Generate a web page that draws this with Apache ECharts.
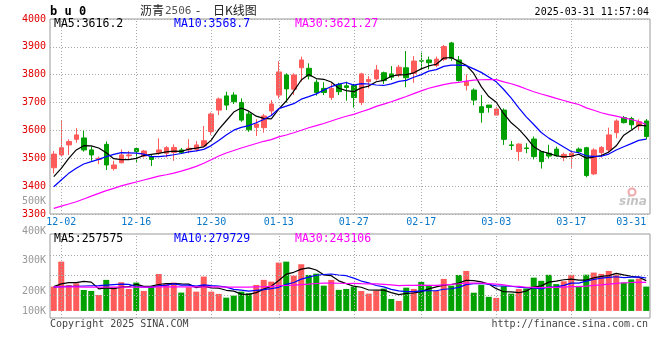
<!DOCTYPE html>
<html><head><meta charset="utf-8">
<script src="https://cdn.jsdelivr.net/npm/echarts@6/dist/echarts.min.js"></script>
<style>html,body{margin:0;padding:0;background:#fff}#c{width:660px;height:360px}</style>
</head><body><div id="c"></div>
<script>
const dates = ["11-29",
"12-02","12-03","12-04","12-05","12-06","12-09","12-10","12-11","12-12","12-13","12-16","12-17","12-18","12-19","12-20","12-23","12-24","12-25","12-26","12-27","12-30","12-31",
"01-02","01-03","01-06","01-07","01-08","01-09","01-10","01-13","01-14","01-15","01-16","01-17","01-20","01-21","01-22","01-23","01-24","01-27",
"02-05","02-06","02-07","02-10","02-11","02-12","02-13","02-14","02-17","02-18","02-19","02-20","02-21","02-24","02-25","02-26","02-27","02-28",
"03-03","03-04","03-05","03-06","03-07","03-10","03-11","03-12","03-13","03-14","03-17","03-18","03-19","03-20","03-21","03-24","03-25","03-26","03-27","03-28","03-31"];
const labelIdx = [1,11,21,30,40,49,59,69,79];
const gridIdx = [1,11,21,30,40,49,59,69];

const opens = [3466,3512,3548,3568,3573,3530,3496,3550,3463,3484,
3509,3535,3508,3506,3521,3518,3521,3530,3530,3532,
3544,3596,3673,3724,3727,3700,3659,3611,3610,3670,
3727,3799,3748,3825,3823,3773,3751,3718,3765,3760,
3761,3700,3775,3785,3807,3803,3799,3825,3805,3850,
3853,3833,3855,3914,3853,3761,3745,3685,3691,3655,
3673,3548,3524,3537,3569,3524,3518,3533,3503,3506,
3533,3538,3444,3520,3530,3592,3646,3643,3616,3634];
const closes = [3515,3538,3560,3584,3530,3512,3500,3476,3476,3512,
3512,3524,3526,3496,3530,3538,3539,3520,3536,3548,
3563,3659,3713,3691,3703,3637,3602,3623,3652,3695,
3810,3749,3799,3853,3795,3736,3736,3751,3739,3754,
3718,3803,3783,3817,3779,3791,3827,3789,3849,3849,
3843,3856,3901,3859,3779,3775,3709,3664,3682,3677,
3568,3546,3551,3535,3506,3488,3508,3509,3514,3518,
3524,3438,3530,3539,3584,3634,3628,3620,3631,3578];
const lows = [3446,3506,3512,3556,3524,3491,3479,3458,3456,3482,
3494,3484,3503,3472,3512,3503,3491,3515,3518,3524,
3542,3584,3655,3673,3695,3631,3595,3580,3592,3652,
3715,3700,3727,3775,3783,3725,3727,3709,3727,3707,
3682,3691,3751,3779,3767,3781,3791,3755,3771,3817,
3819,3827,3849,3850,3775,3743,3691,3628,3664,3655,
3548,3530,3491,3518,3496,3463,3500,3506,3490,3466,
3518,3432,3440,3503,3518,3572,3625,3605,3602,3568];
const highs = [3526,3634,3568,3608,3599,3542,3506,3560,3491,3532,
3526,3539,3530,3512,3572,3544,3550,3537,3569,3562,
3616,3664,3718,3739,3737,3715,3667,3640,3659,3709,
3849,3805,3805,3865,3841,3783,3773,3769,3771,3775,
3767,3807,3795,3835,3811,3831,3835,3885,3867,3879,
3865,3865,3907,3918,3867,3801,3751,3727,3691,3685,
3679,3562,3554,3554,3578,3526,3548,3542,3520,3524,
3539,3541,3536,3544,3610,3640,3652,3649,3640,3641];

const ma5 = [3434,3464,3500,3530,3545.2,3544.5,3536.9,3520.1,3498.6,3495,
3495,3499.7,3509.8,3513.9,3517.5,3522.7,3525.9,3524.7,3532.6,3536.2,
3541.2,3565.1,3603.6,3634.7,3665.9,3680.7,3669.2,3651.3,3643.4,3641.7,
3676.2,3705.6,3740.8,3781,3801,3786.3,3783.6,3774,3751.3,3742.9,
3739.3,3752.7,3759.2,3774.8,3779.8,3794.4,3799.2,3800.4,3806.9,3821,
3831.5,3837.5,3859.7,3861.7,3847.5,3833.9,3804.5,3757.1,3721.6,3701.3,
3659.9,3627.3,3604.8,3575.4,3541.2,3525.1,3517.5,3509.1,3505,3507.4,
3514.6,3500.5,3504.5,3509.6,3522.7,3544.8,3582.8,3600.8,3619.2,3616.2];
const ma10 = [3398,3422,3446,3464,3479.5,3488,3496,3506,3514,3520.1,
3519.7,3518.3,3514.9,3506.2,3506.2,3508.9,3512.8,3517.2,3523.2,3526.8,
3532,3545.5,3564.2,3583.7,3601,3610.9,3617.2,3627.5,3639.1,3653.8,
3678.4,3687.4,3696,3712.2,3721.4,3731.2,3744.6,3757.4,3766.2,3772,
3762.8,3768.2,3766.6,3763,3761.4,3766.9,3776,3779.8,3790.8,3800.4,
3813,3818.3,3830.1,3834.3,3834.3,3832.7,3821,3808.4,3791.7,3774.4,
3746.9,3715.9,3681,3648.5,3621.2,3592.5,3572.4,3557,3540.2,3524.3,
3519.9,3509,3506.8,3507.3,3515.1,3529.7,3541.6,3552.7,3564.4,3568.7];
const ma30 = [3320,3328,3336,3344,3354,3364,3374,3384,3392,3401,
3408,3415,3422,3429,3436,3441,3447,3454,3462,3471,
3482,3495,3508,3519,3528,3537,3545,3553,3561,3566.9,
3576.7,3583.7,3591.7,3600.7,3609.5,3617,3624.9,3634,3642.8,3650.9,
3657.7,3667,3675.6,3686.3,3694.6,3703,3712.6,3721.6,3732,3742.1,
3751.4,3758,3764.2,3769.8,3772.3,3776.9,3780.5,3781.9,3782.9,3782.3,
3774.2,3767.5,3759.2,3748.6,3738.9,3730.7,3723.1,3715.1,3707.6,3699.7,
3693.2,3681.1,3672.6,3663.4,3656.9,3651.6,3645,3639.3,3632.1,3621.3];

const volumes = [207000,419000,221000,235000,178000,170000,136000,264000,201000,244000,
187000,241000,170000,212000,314000,230000,241000,156000,201000,164000,
292000,164000,145000,113000,130000,164000,150000,221000,264000,249000,
411000,419000,300000,397000,306000,317000,215000,264000,179000,187000,
207000,170000,147000,170000,190000,102000,85000,198000,187000,247000,
221000,170000,272000,215000,306000,340000,155000,221000,120000,111000,
210000,147000,187000,191000,283000,256000,307000,228000,252000,307000,
213000,308000,326000,315000,340000,309000,241000,268000,275000,207000];
const volMa5 = [207000,230000,241000,241000,252000,244600,188000,196500,189700,202900,
206300,227300,208600,210800,224800,233300,233300,230500,228300,198300,
210800,195400,193100,175500,168700,143100,140300,155600,185700,209500,
258900,312700,328500,355200,366600,347800,307000,299700,256000,232200,
210200,201200,177900,176200,176800,155800,138800,149000,152400,163700,
187500,204500,219300,224900,236800,260600,257600,247400,228400,189300,
163300,161700,154900,169100,203600,212800,244800,253000,265200,270000,
261400,261600,281200,293800,300400,319600,306200,294600,286600,257575];
const volMa10 = [203000,206000,208000,210000,212000,214000,216000,220000,224000,227500,
225500,207700,202600,200300,213900,219800,230300,219600,219600,211600,
222100,214400,211800,201900,183500,177000,167900,174400,180600,189100,
201000,226500,242100,270500,288100,303400,309900,314100,305600,299400,
279000,254100,238800,216100,204500,183000,170000,163500,164300,170300,
171700,171700,184200,188700,200300,224100,231100,233400,226700,213100,
212000,209700,201200,198800,196500,188100,203300,204000,217200,236800,
237100,253200,267100,279500,285200,290500,283900,287900,290200,279729];
const volMa30 = [205000,205000,204000,204000,203000,203000,203000,202000,202000,202000,
202000,203000,203000,203000,204000,204000,205000,205000,205000,205000,
205000,205000,204000,203000,202000,202000,202000,204000,206000,209400,
216200,216200,218800,224200,228500,233400,236000,236000,235300,233400,
234000,231700,230900,229500,225400,221100,215900,217300,216800,219600,
217200,217400,221700,225100,230900,236800,237000,237000,232200,227600,
220900,211800,208000,201200,200400,198400,201400,200300,202700,206700,
206900,211500,217500,222300,227300,234200,239400,241700,244700,243106];
const volTickLabels = ["500K","400K","300K","200K","100K"];
const volGridValues = [130000,300000,470000];

const MONO = '"DejaVu Sans Mono", "Liberation Mono", monospace';
const CJK = '"Noto Sans CJK SC", sans-serif';
const UP = '#ff5b5b', DOWN = '#00a000';

const ohlc = opens.map((o, i) => [o, closes[i], lows[i], highs[i]]);
const dotted = {color: '#a8a8a8', width: 1, type: [1, 2]};

const chart = echarts.init(document.getElementById('c'), null, {renderer: 'canvas'});
const lineS = (data, color, xi, yi) => ({type: 'line', data, xAxisIndex: xi, yAxisIndex: yi, symbol: 'none',
  lineStyle: {color, width: 1.2}, silent: true, z: 5});

function txt(x, y, text, fill, font, align) {
  return {type: 'text', x, y, silent: true, z: 100,
    style: {text, fill, font, align: align || 'left', verticalAlign: 'middle', textAlign: align || 'left', textVerticalAlign: 'middle'}};
}

chart.setOption({
  animation: false,
  backgroundColor: '#fff',
  grid: [
    {left: 50, right: 10, top: 19, height: 195, show: true, borderColor: '#999', borderWidth: 1},
    {left: 50, right: 10, top: 234, height: 84, show: true, borderColor: '#999', borderWidth: 1}
  ],
  xAxis: [
    {type: 'category', gridIndex: 0, data: dates, boundaryGap: true,
     axisLine: {show: false}, axisTick: {show: false}, splitLine: {show: false},
     axisLabel: {interval: (i) => labelIdx.includes(i), color: '#0a78c8', fontFamily: MONO, fontSize: 10, margin: 3, alignMaxLabel: 'right', showMaxLabel: true}},
    {type: 'category', gridIndex: 1, data: dates, boundaryGap: true,
     axisLine: {show: false}, axisTick: {show: false}, splitLine: {show: false}, axisLabel: {show: false}}
  ],
  yAxis: [
    {type: 'value', gridIndex: 0, min: 3300, max: 4000, interval: 100,
     axisLine: {show: false}, axisTick: {show: false},
     axisLabel: {color: '#e00000', fontFamily: MONO, fontSize: 10, margin: 4, padding: [0, 0, 5, 0], formatter: (v) => String(v)},
     splitLine: {show: true, lineStyle: dotted}},
    {type: 'value', gridIndex: 1, min: -60000, max: 654000,
     axisLine: {show: false}, axisTick: {show: false}, axisLabel: {show: false}, splitLine: {show: false}}
  ],
  series: [
    {type: 'candlestick', xAxisIndex: 0, yAxisIndex: 0, data: ohlc, barWidth: 5, silent: true,
     itemStyle: {color: UP, color0: DOWN, borderColor: UP, borderColor0: DOWN, borderWidth: 1},
     markLine: {silent: true, symbol: ['none', 'none'], label: {show: false}, lineStyle: dotted,
       data: gridIdx.map(i => ({xAxis: dates[i]}))}, z: 3},
    lineS(ma5, '#000000', 0, 0),
    lineS(ma10, '#0000ff', 0, 0),
    lineS(ma30, '#ff00ff', 0, 0),
    {type: 'bar', xAxisIndex: 1, yAxisIndex: 1, data: volumes, barWidth: 6, silent: true,
     itemStyle: {color: (p) => closes[p.dataIndex] >= opens[p.dataIndex] ? UP : DOWN},
     markLine: {silent: true, symbol: ['none', 'none'], label: {show: false}, lineStyle: dotted,
       data: gridIdx.map(i => ({xAxis: dates[i]})).concat(volGridValues.map(v => ({yAxis: v})))}, z: 2},
    lineS(volMa5, '#000000', 1, 1),
    lineS(volMa10, '#0000ff', 1, 1),
    lineS(volMa30, '#ff00ff', 1, 1)
  ],
  graphic: [
    txt(50, 12, 'b u 0', '#000', 'bold 12px ' + MONO),
    txt(140, 10.5, '沥青', '#222', '12px ' + CJK),
    txt(165, 11, '2506', '#555', '11px ' + MONO),
    txt(196, 10.5, '-', '#222', '12px ' + CJK),
    txt(213, 10.5, '日K线图', '#222', '12px ' + CJK),
    txt(649, 12, '2025-03-31 11:57:04', '#000', '10px ' + MONO, 'right'),
    txt(54, 24, 'MA5:' + ma5[79].toFixed(1), '#000', '11.5px ' + MONO),
    txt(174, 24, 'MA10:' + ma10[79].toFixed(1), '#0000ff', '11.5px ' + MONO),
    txt(295, 24, 'MA30:3621.27', '#ff00ff', '11.5px ' + MONO),
    txt(54, 239, 'MA5:' + volMa5[79], '#000', '11.5px ' + MONO),
    txt(174, 239, 'MA10:' + volMa10[79], '#0000ff', '11.5px ' + MONO),
    txt(295, 239, 'MA30:' + volMa30[79], '#ff00ff', '11.5px ' + MONO),
    txt(46, 201, volTickLabels[0], '#999', '10px ' + MONO, 'right'),
    txt(46, 231, volTickLabels[1], '#999', '10px ' + MONO, 'right'),
    txt(46, 260, volTickLabels[2], '#999', '10px ' + MONO, 'right'),
    txt(46, 291, volTickLabels[3], '#999', '10px ' + MONO, 'right'),
    txt(46, 311, volTickLabels[4], '#999', '10px ' + MONO, 'right'),
    txt(50, 324, 'Copyright 2025 SINA.COM', '#444', '10px ' + MONO),
    txt(648, 324, 'http://finance.sina.com.cn', '#444', '10px ' + MONO, 'right'),
    {type: 'circle', shape: {cx: 632, cy: 192, r: 3.5}, style: {fill: 'none', stroke: '#f2a8a8', lineWidth: 2}, silent: true, z: 1},
    txt(633, 202, 'sina', '#c4c4c4', 'italic bold 12px "DejaVu Sans", sans-serif', 'center')
  ]
});
</script></body></html>
